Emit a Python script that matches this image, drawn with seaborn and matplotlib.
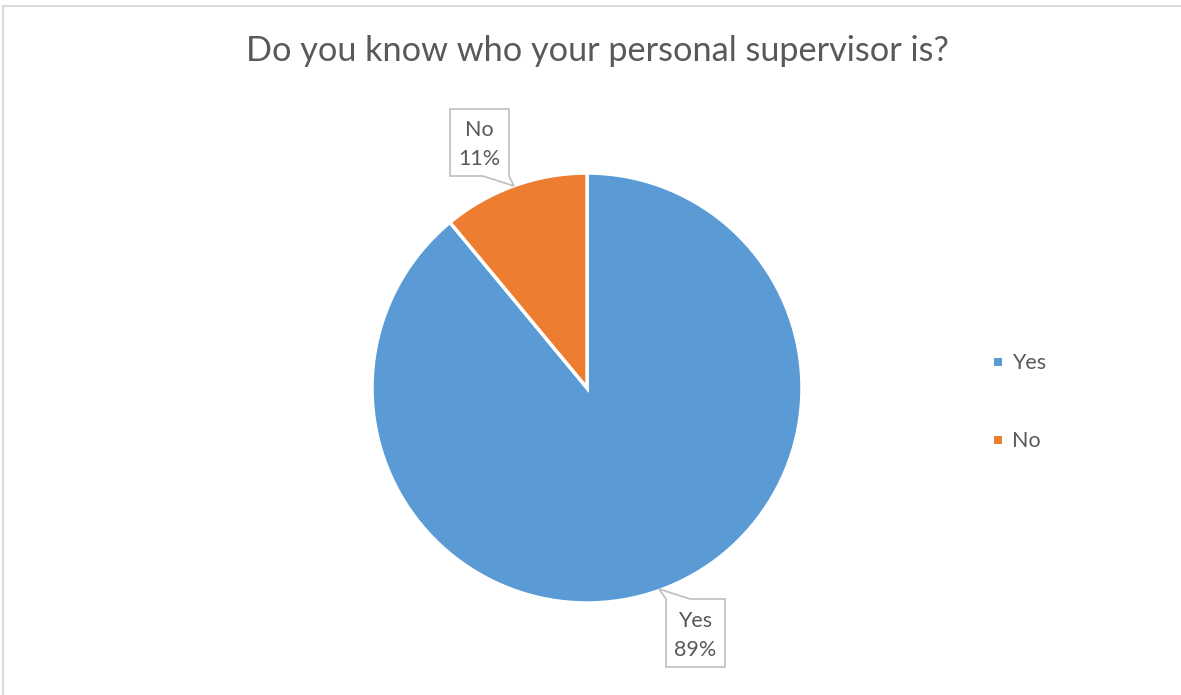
import matplotlib
matplotlib.use("Agg")
import matplotlib.pyplot as plt
from matplotlib.patches import Polygon, Rectangle
import seaborn as sns

# Survey answers
categories = ["Yes", "No"]
shares = [89, 11]
title = "Do you know who your personal supervisor is?"

sns.set_theme(style="white")
plt.rcParams["font.family"] = ["Lato", "DejaVu Sans"]

W, H = 1181, 695
DPI = 100
fig = plt.figure(figsize=(W / DPI, H / DPI), dpi=DPI)
fig.patch.set_facecolor("white")

TEXT = "#595959"
colors = ["#5B9BD5", "#ED7D31"]


def fx(px):
    return px / W


def fy(py):
    return 1 - py / H


# chart-area frame
fig.patches.append(Rectangle((fx(3), fy(H + 5)), fx(W + 10), (H - 6 + 5) / H,
                             transform=fig.transFigure, fill=False,
                             edgecolor="#D9D9D9", linewidth=1.5))

# pie axes, centred at (587, 388) px with 215 px radius
cx, cy, r = 587, 388, 215
ax = fig.add_axes([fx(cx - r), fy(cy + r), 2 * r / W, 2 * r / H])
wedges, _ = ax.pie(shares, colors=colors, startangle=90, counterclock=False,
                   wedgeprops=dict(edgecolor="white", linewidth=2.5))
ax.set_xlim(-1, 1)
ax.set_ylim(-1, 1)
ax.set_aspect("equal")
ax.axis("off")

fig.text(fx(597), fy(51), title, ha="center", va="center",
         fontsize=24.7, color=TEXT)


def callout(pts, label, value, cxp, y1, y2):
    poly = Polygon([(fx(x), fy(y)) for x, y in pts], closed=True,
                   transform=fig.transFigure, facecolor="white",
                   edgecolor="#BFBFBF", linewidth=1.2, zorder=5)
    fig.patches.append(poly)
    fig.text(fx(cxp), fy(y1), label, ha="center", va="center",
             fontsize=15.5, color=TEXT, zorder=6)
    fig.text(fx(cxp), fy(y2), f"{value}%", ha="center", va="center",
             fontsize=15.5, color=TEXT, zorder=6)


callout([(450, 109), (509, 109), (509, 176), (514, 186), (483, 176), (450, 176)],
        categories[1], shares[1], 479.5, 130, 159)
callout([(666, 599), (659, 589), (690, 599), (725, 599), (725, 667), (666, 667)],
        categories[0], shares[0], 695.5, 621, 650)

# legend
for i, (name, col) in enumerate(zip(categories, colors)):
    y = 362 + i * 78
    fig.patches.append(Rectangle((fx(994), fy(y + 4)), fx(8), 8 / H,
                                 transform=fig.transFigure,
                                 facecolor=col, edgecolor="none"))
    fig.text(fx(1012), fy(y + 1), name, ha="left", va="center",
             fontsize=15.5, color=TEXT)

fig.savefig("out.png", dpi=DPI, facecolor="white")
